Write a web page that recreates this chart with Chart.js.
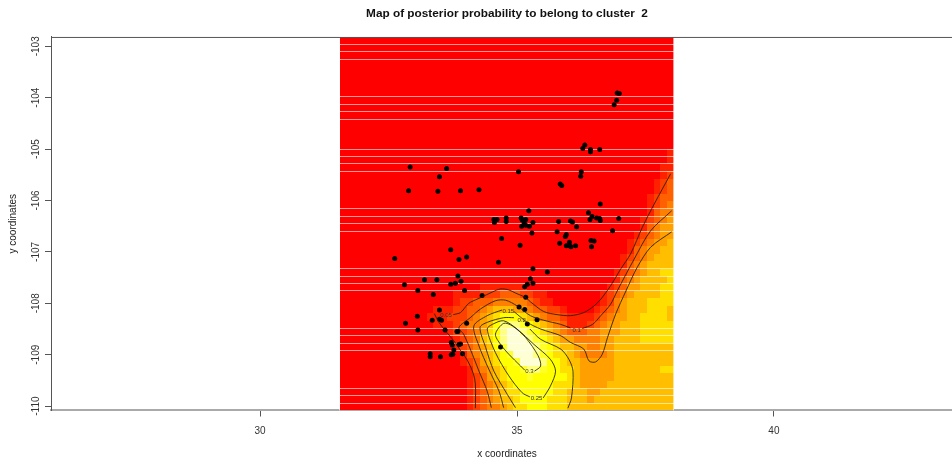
<!DOCTYPE html>
<html>
<head>
<meta charset="utf-8">
<style>
  html, body { margin: 0; padding: 0; background: #fff; overflow: hidden; }
  canvas { display: block; }
</style>
<script src="https://cdn.jsdelivr.net/npm/chart.js@4"></script>
</head>
<body>
<canvas id="mapChart" width="967" height="461"></canvas>
<script>
const xTicks = [30, 35, 40];
const yTicks = [-103, -104, -105, -106, -107, -108, -109, -110];
const xLimits = [25.93, 43.68];
const yLimits = [-110.085, -102.819];

// image extent, 50 x 50 cells
const imageX = [31.55, 38.05];
const imageY = [-102.819, -110.085];

// heat.colors(12)
const heatColors = ['#ff0000', '#ff2000', '#ff4000', '#ff6000', '#ff8000', '#ff9f00',
  '#ffbf00', '#ffdf00', '#ffff00', '#ffff2a', '#ffff80', '#ffffd5'];

const allRed = '0000000000 0000000000 0000000000 0000000000 0000000000';
// one string per image row, top to bottom, one hex digit per cell
const heatRows = [
  allRed, allRed, allRed, allRed, allRed,
  allRed, allRed, allRed, allRed, allRed,
  allRed, allRed, allRed, allRed, allRed,
  '0000000000 0000000000 0000000000 0000000000 0000000001',
  '0000000000 0000000000 0000000000 0000000000 0000000001',
  '0000000000 0000000000 0000000000 0000000000 0000000011',
  '0000000000 0000000000 0000000000 0000000000 0000000012',
  '0000000000 0000000000 0000000000 0000000000 0000000123',
  '0000000000 0000000000 0000000000 0000000000 0000000123',
  '0000000000 0000000000 0000000000 0000000000 0000001233',
  '0000000000 0000000000 0000000000 0000000000 0000001234',
  '0000000000 0000000000 0000000000 0000000000 0000001344',
  '0000000000 0000000000 0000000000 0000000000 0000012345',
  '0000000000 0000000000 0000000000 0000000000 0000013455',
  '0000000000 0000000000 0000000000 0000000000 0000123455',
  '0000000000 0000000000 0000000000 0000000000 0001234556',
  '0000000000 0000000000 0000000000 0000000000 0001345566',
  '0000000000 0000000000 0000000000 0000000000 0012345666',
  '0000000000 0000000000 0000000000 0000000000 0013456666',
  '0000000000 0000000000 0000000000 0000000000 0123456677',
  '0000000000 0000000000 0000000000 0000000000 0134566667',
  '0000000000 0000000000 0111111100 0000000000 1235566677',
  '0000000000 0000000111 1222333221 1000000001 2345666677',
  '0000000000 0000000122 3334444432 1100000001 2456667777',
  '0000000000 0000111223 3456665543 3221000012 3456667776',
  '0000000000 0001112223 4567888765 4332111123 4556677776',
  '0000000000 0000111234 4568aaa987 6543111234 5566677777',
  '0000000000 0000001223 4578abba98 7654333445 5566677777',
  '0000000000 0000000123 4678abbba9 8765544445 5666677777',
  '0000000000 0000000123 45689bbbba 9876655445 5666666666',
  '0000000000 0000000013 456789bbba 9877654444 5666666666',
  '0000000000 0000000012 3567889bbb a887665555 5666666666',
  '0000000000 0000000001 34567889aa 9887765555 5666666677',
  '0000000000 0000000001 2356788898 8888765555 5666666666',
  '0000000000 0000000001 2345678888 8877765555 6666666666',
  '0000000000 0000000001 2345677888 8877666556 6666666666',
  '0000000000 0000000001 2345667888 8777666566 6666666666',
  '0000000000 0000000001 2344567788 8777666666 6666666666'
];

// row boundaries that show as pale seams in the image
const seamRows = [1, 2, 3, 8, 9, 10, 11, 15, 16, 17, 18, 23, 24, 25, 26,
  31, 32, 33, 34, 39, 40, 41, 42, 47, 48, 49];

const pointsXY = [
  [36.95,-103.91],[36.99,-103.92],[36.94,-104.05],[36.89,-104.14],[36.32,-104.92],
  [36.28,-104.99],[36.43,-105.01],[36.43,-105.05],[36.61,-105.01],[32.92,-105.35],
  [33.63,-105.38],[33.49,-105.54],[32.89,-105.81],[33.46,-105.82],[33.90,-105.81],
  [34.26,-105.79],[35.03,-105.44],[35.84,-105.68],[35.87,-105.71],[36.25,-105.44],
  [36.24,-105.53],[36.62,-106.07],[35.23,-106.20],[36.39,-106.24],[36.46,-106.31],
  [36.55,-106.34],[36.61,-106.35],[36.62,-106.39],[36.42,-106.37],[36.98,-106.35],
  [36.86,-106.59],[34.55,-106.37],[34.61,-106.37],[34.56,-106.43],[34.79,-106.34],
  [34.79,-106.41],[35.08,-106.34],[35.10,-106.38],[35.17,-106.37],[35.14,-106.44],
  [35.09,-106.50],[35.17,-106.48],[35.24,-106.50],[35.31,-106.43],[35.29,-106.63],
  [35.81,-106.41],[36.04,-106.40],[36.08,-106.42],[36.16,-106.51],[35.78,-106.61],
  [35.96,-106.66],[35.94,-106.70],[34.70,-106.74],[35.06,-106.87],[34.64,-107.20],
  [35.83,-106.83],[36.02,-106.81],[35.96,-106.88],[36.02,-106.88],[36.05,-106.90],
  [36.14,-106.88],[36.44,-106.78],[36.50,-106.79],[36.45,-106.90],[33.71,-106.96],
  [34.02,-107.10],[33.87,-107.15],[32.62,-107.13],[33.85,-107.47],[33.91,-107.57],
  [33.80,-107.61],[33.71,-107.63],[33.44,-107.54],[33.20,-107.54],[32.81,-107.64],
  [33.07,-107.75],[33.37,-107.83],[33.98,-107.75],[34.32,-107.85],[35.31,-107.33],
  [35.59,-107.39],[35.26,-107.52],[35.20,-107.63],[35.31,-107.61],[35.15,-107.68],
  [35.17,-107.88],[35.04,-108.07],[35.15,-108.12],[35.20,-108.40],[35.39,-108.32],
  [34.02,-108.39],[33.49,-108.13],[33.35,-108.33],[33.06,-108.25],[32.83,-108.39],
  [33.07,-108.52],[33.49,-108.31],[33.53,-108.33],[33.60,-108.52],[33.83,-108.55],
  [33.85,-108.55],[33.72,-108.76],[33.74,-108.81],[33.87,-108.80],[33.90,-108.79],
  [33.77,-108.91],[33.94,-108.98],[33.72,-109.00],[33.75,-108.99],[33.51,-109.04],
  [33.31,-108.98],[33.31,-109.04],[34.68,-108.85]
];

// contour levels, cut where the labels sit
const contour005a = [[34.19,-110.04],[34.19,-109.57],[34.15,-109.37],[34.04,-109.12],[33.93,-108.96],
  [33.77,-108.73],[33.61,-108.54],[33.48,-108.37],[33.39,-108.20]];
const contour005b = [[33.76,-108.22],[33.90,-108.18],[34.03,-108.03],[34.09,-107.98],[34.29,-107.89],
  [34.52,-107.78],[34.68,-107.72],[34.84,-107.74],[34.97,-107.80],[35.17,-107.89],[35.26,-107.97],
  [35.52,-108.16],[35.78,-108.22],[36.04,-108.24],[36.30,-108.18],[36.50,-108.05],[36.63,-107.92],
  [36.82,-107.66],[37.02,-107.33],[37.21,-107.04],[37.44,-106.52],[37.67,-106.07],[37.99,-105.48]];
const contour010a = [[34.50,-110.03],[34.42,-109.71],[34.26,-109.32],[34.09,-108.89],[33.96,-108.60],
  [33.87,-108.47],[34.09,-108.28],[34.29,-108.11],[34.58,-107.95],[34.78,-107.94],[35.00,-108.05],
  [35.26,-108.24],[35.52,-108.33],[35.85,-108.41],[36.04,-108.48]];
const contour010b = [[36.27,-108.49],[36.47,-108.41],[36.63,-108.24],[36.82,-108.02],[36.95,-107.76],
  [37.28,-107.14],[37.60,-106.59],[38.01,-106.20]];
const contour015a = [[34.74,-110.03],[34.65,-109.71],[34.45,-109.28],[34.26,-108.83],[34.16,-108.44],
  [34.42,-108.24],[34.71,-108.13]];
const contour015b = [[34.94,-108.16],[35.20,-108.37],[35.46,-108.50],[35.85,-108.63],[36.04,-108.76],
  [36.30,-108.89],[36.40,-109.12],[36.53,-109.14],[36.66,-108.99],[36.76,-108.67],[36.92,-108.21],
  [37.12,-107.76],[37.34,-107.30],[37.60,-106.91],[38.01,-106.61]];
const contour020a = [[34.97,-110.03],[34.81,-109.77],[34.55,-109.32],[34.39,-108.86],[34.28,-108.47],
  [34.42,-108.37],[34.74,-108.28],[34.94,-108.28]];
const contour020b = [[35.25,-108.50],[35.46,-108.70],[35.85,-108.89],[36.01,-109.09],[36.09,-109.32],
  [36.06,-109.84],[35.99,-110.04]];
const contour025 = [[35.25,-109.82],[35.10,-109.74],[34.84,-109.41],[34.58,-108.96],[34.42,-108.50],
  [34.52,-108.41],[34.74,-108.34],[35.00,-108.50],[35.33,-108.80],[35.65,-109.09],[35.75,-109.32],
  [35.65,-109.61],[35.51,-109.84]];
const contour030 = [[35.15,-109.30],[35.07,-109.22],[34.84,-108.99],[34.68,-108.80],[34.58,-108.60],
  [34.74,-108.39],[34.91,-108.44],[35.17,-108.67],[35.41,-109.02],[35.46,-109.22],[35.34,-109.32]];

const contourLabels = ['0.05', '0.1', '0.15', '0.2', '0.25', '0.3'];
const contourLabelsXY = [[33.62,-108.24],[36.16,-108.52],[34.83,-108.15],[35.09,-108.34],[35.38,-109.85],[35.24,-109.32]];

const allContours = [contour005a, contour005b, contour010a, contour010b, contour015a, contour015b,
  contour020a, contour020b, contour025, contour030];

const toXY = pair => ({ x: pair[0], y: pair[1] });
const fontName = '"Liberation Sans", Arial, sans-serif';

// image cells go under the datasets
const heatMap = {
  id: 'heatMap',
  beforeDatasetsDraw(chart) {
    const ctx = chart.ctx, sx = chart.scales.x, sy = chart.scales.y;
    const stepX = (imageX[1] - imageX[0]) / 50, stepY = (imageY[1] - imageY[0]) / 50;
    const left = Math.floor(sx.getPixelForValue(imageX[0]));
    const right = Math.round(sx.getPixelForValue(imageX[1]));
    heatRows.forEach((row, r) => {
      const cells = row.replace(/ /g, '');
      const y0 = Math.round(sy.getPixelForValue(imageY[0] + r * stepY));
      const y1 = Math.round(sy.getPixelForValue(imageY[0] + (r + 1) * stepY));
      for (let c = 0; c < 50; c++) {
        const x0 = Math.round(sx.getPixelForValue(imageX[0] + c * stepX));
        const x1 = Math.round(sx.getPixelForValue(imageX[0] + (c + 1) * stepX));
        ctx.fillStyle = heatColors[parseInt(cells[c], 16)];
        ctx.fillRect(x0, y0, x1 - x0, y1 - y0);
      }
    });
    ctx.fillStyle = 'rgba(255,255,255,0.6)';
    seamRows.forEach(r => {
      const y = Math.floor(sy.getPixelForValue(imageY[0] + r * stepY));
      ctx.fillRect(left, y, right - left, 1);
    });
    ctx.fillRect(left, chart.chartArea.top, 1, chart.chartArea.height);
    ctx.fillRect(right - 1, chart.chartArea.top, 1, chart.chartArea.height);
  },
  afterDatasetsDraw(chart) {
    const ctx = chart.ctx, sx = chart.scales.x, sy = chart.scales.y;
    ctx.save();
    ctx.font = '6px ' + fontName;
    ctx.fillStyle = '#333';
    ctx.textAlign = 'center';
    ctx.textBaseline = 'middle';
    contourLabels.forEach((label, i) => {
      ctx.fillText(label, sx.getPixelForValue(contourLabelsXY[i][0]), sy.getPixelForValue(contourLabelsXY[i][1]));
    });
    // top side of the box
    ctx.strokeStyle = '#555';
    ctx.lineWidth = 1;
    ctx.beginPath();
    ctx.moveTo(chart.chartArea.left, chart.chartArea.top + 0.5);
    ctx.lineTo(chart.chartArea.right, chart.chartArea.top + 0.5);
    ctx.stroke();
    ctx.restore();
  }
};

const contourSets = allContours.map(line => ({
  data: line.map(toXY),
  showLine: true,
  borderColor: 'rgba(30,30,0,0.85)',
  borderWidth: 1,
  tension: 0.3,
  pointRadius: 0
}));

new Chart(document.getElementById('mapChart'), {
  type: 'scatter',
  data: {
    datasets: [...contourSets, {
      data: pointsXY.map(toXY),
      backgroundColor: '#000',
      borderColor: '#000',
      pointRadius: 2.5,
      pointBorderWidth: 0
    }]
  },
  plugins: [heatMap],
  options: {
    responsive: false,
    animation: false,
    layout: { padding: 0 },
    plugins: {
      legend: { display: false },
      tooltip: { enabled: false },
      title: {
        display: true,
        fullSize: false,
        text: 'Map of posterior probability to belong to cluster  2',
        color: '#111',
        font: { family: fontName, size: 11.8, weight: 'bold', lineHeight: 1.2 },
        padding: { top: 6.9, bottom: 15.9 }
      }
    },
    scales: {
      x: {
        type: 'linear',
        min: xLimits[0],
        max: xLimits[1],
        afterBuildTicks: axis => { axis.ticks = xTicks.map(v => ({ value: v })); },
        afterFit: axis => { axis.height = 50.5; },
        grid: { drawOnChartArea: false, tickLength: 6, tickColor: '#555' },
        border: { color: '#aaa', width: 2 },
        ticks: {
          color: '#333',
          padding: 9,
          maxRotation: 0,
          font: { family: fontName, size: 10 },
          callback: v => String(v)
        },
        title: {
          display: true,
          text: 'x coordinates',
          color: '#222',
          font: { family: fontName, size: 10 },
          padding: { top: 0, bottom: 1 }
        }
      },
      y: {
        type: 'linear',
        min: yLimits[0],
        max: yLimits[1],
        afterBuildTicks: axis => { axis.ticks = yTicks.map(v => ({ value: v })); },
        afterFit: axis => { axis.width = 51; },
        grid: { drawOnChartArea: false, tickLength: 6, tickColor: '#555' },
        border: { color: '#555', width: 1 },
        ticks: {
          color: '#333',
          padding: -1,
          minRotation: 90,
          maxRotation: 90,
          crossAlign: 'center',
          font: { family: fontName, size: 10 },
          callback: v => String(v)
        },
        title: {
          display: true,
          text: 'y coordinates',
          color: '#222',
          font: { family: fontName, size: 10 },
          padding: { top: 7, bottom: 0 }
        }
      }
    }
  }
});
</script>
</body>
</html>
